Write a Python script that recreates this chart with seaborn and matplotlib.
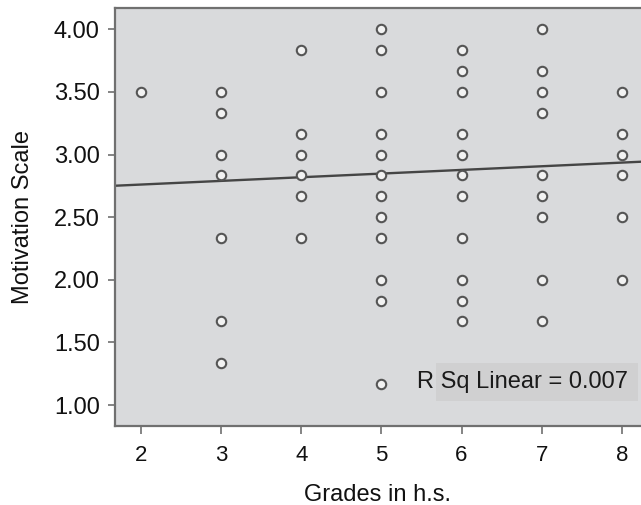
import matplotlib
matplotlib.use("Agg")
import matplotlib.pyplot as plt
from matplotlib.patches import Rectangle
import numpy as np
import pandas as pd
import seaborn as sns

# Grades in high school and the motivation score of each respondent
grade_2 = [3.500]
grade_3 = [3.500, 3.333, 3.000, 2.833, 2.333, 1.667, 1.333]
grade_4 = [3.833, 3.167, 3.000, 2.833, 2.667, 2.333]
grade_5 = [4.000, 3.833, 3.500, 3.167, 3.000, 2.833, 2.667, 2.500, 2.333,
           2.000, 1.833, 1.167]
grade_6 = [3.833, 3.667, 3.500, 3.167, 3.000, 2.833, 2.667, 2.333, 2.000,
           1.833, 1.667]
grade_7 = [4.000, 3.667, 3.500, 3.333, 2.833, 2.667, 2.500, 2.000, 1.667]
grade_8 = [3.500, 3.167, 3.000, 2.833, 2.500, 2.000]

grades = [2, 3, 4, 5, 6, 7, 8]
motivation = [grade_2, grade_3, grade_4, grade_5, grade_6, grade_7, grade_8]

# Linear fit reported for the full sample
fit_intercept = 2.702
fit_slope = 0.0292
r_sq_label = "R Sq Linear = 0.007"

y_ticks = [1.00, 1.50, 2.00, 2.50, 3.00, 3.50, 4.00]

df = pd.DataFrame({
    "Grades in h.s.": [g for g, vals in zip(grades, motivation) for _ in vals],
    "Motivation Scale": [v for vals in motivation for v in vals],
})

sns.set_theme(style="ticks")
plt.rcParams["font.family"] = ["Liberation Sans", "DejaVu Sans"]

fig = plt.figure(figsize=(6.41, 5.05), dpi=100)
ax = fig.add_axes([115 / 641, 1 - 425.7 / 505, 526 / 641, 417.7 / 505])
ax.set_facecolor("#d9dadc")

xlim = (1.675, 8.24)
ylim = (0.835, 4.17)

fit_x = np.array(xlim)
fit_df = pd.DataFrame({"x": fit_x, "y": fit_intercept + fit_slope * fit_x})
sns.lineplot(data=fit_df, x="x", y="y", ax=ax, color="#454545",
             linewidth=1.7, zorder=2)

sns.scatterplot(data=df, x="Grades in h.s.", y="Motivation Scale", ax=ax,
                s=46, marker="o", facecolor="#f2f2f2", edgecolor="#555555",
                linewidth=1.5, zorder=3)

ax.set_xlim(*xlim)
ax.set_ylim(*ylim)
ax.set_xticks(grades)
ax.set_xticklabels([str(g) for g in grades])
ax.set_yticks(y_ticks)
ax.set_yticklabels([f"{t:.2f}" for t in y_ticks])

spine_color = "#707070"
for side in ["left", "top", "bottom"]:
    ax.spines[side].set_color(spine_color)
    ax.spines[side].set_linewidth(1.6)
ax.spines["right"].set_visible(False)

ax.tick_params(axis="y", length=5, width=1.2, color=spine_color, pad=6,
               labelsize=17, labelcolor="#111111")
ax.tick_params(axis="x", length=6, width=1.2, color=spine_color, pad=8,
               labelsize=16, labelcolor="#111111")

ax.set_xlabel("Grades in h.s.", fontsize=17, color="#111111", labelpad=13)
ax.set_ylabel("Motivation Scale", fontsize=17, color="#111111", labelpad=14)

ax.add_patch(Rectangle((0.610, 0.059), 0.384, 0.091, transform=ax.transAxes,
                       facecolor="#d0d0d1", edgecolor="none", zorder=1))
ax.text(0.574, 0.105, r_sq_label, transform=ax.transAxes, fontsize=17,
        color="#1a1a1a", ha="left", va="center", zorder=4)

fig.savefig("out.png", dpi=100, facecolor="white")
